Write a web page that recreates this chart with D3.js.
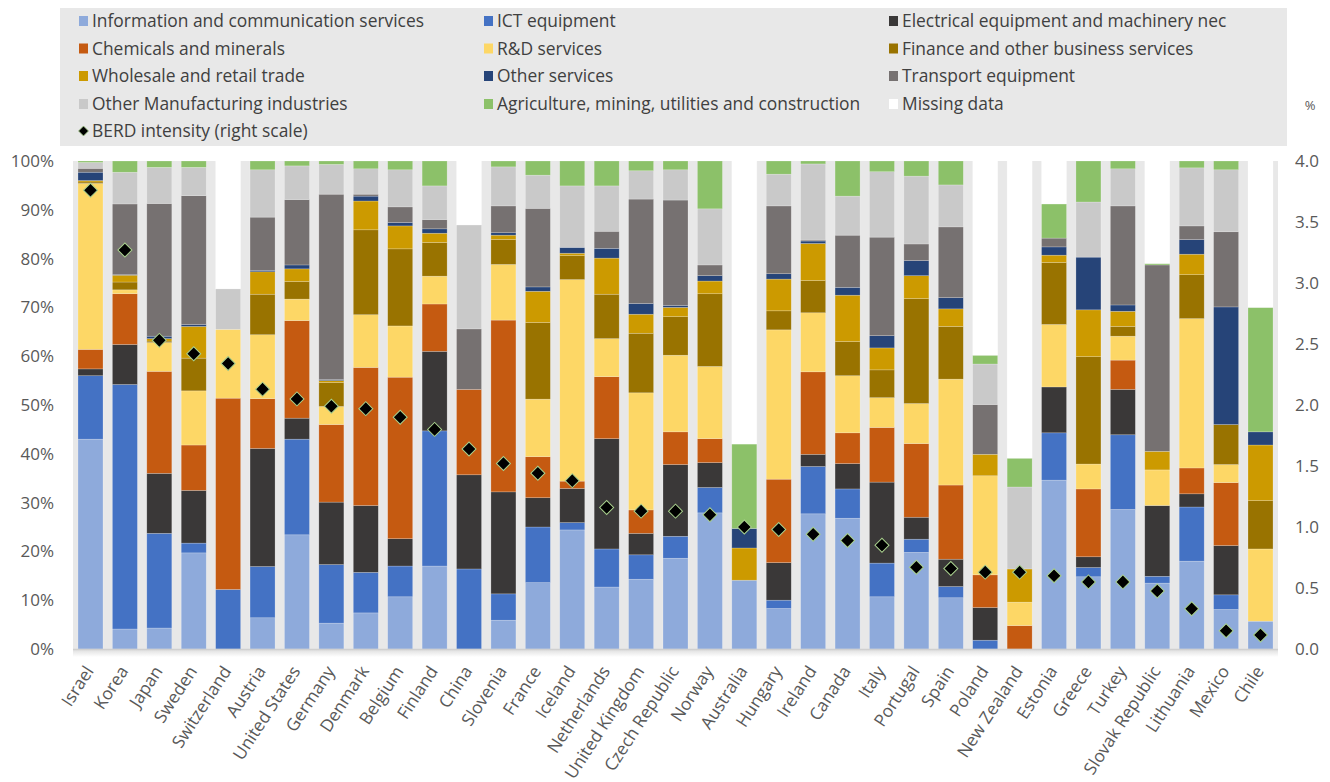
<!DOCTYPE html>
<html>
<head>
<meta charset="utf-8">
<script src="https://cdn.jsdelivr.net/npm/d3@7"></script>
<style>
  html, body { margin: 0; padding: 0; background: #ffffff; }
  svg { display: block; font-family: "Open Sans", "Noto Sans", sans-serif; }
</style>
</head>
<body>
<svg id="chart" width="1330" height="782"></svg>
<script>
// ---------------- DATA ----------------
const countries = ["Israel","Korea","Japan","Sweden","Switzerland","Austria","United States","Germany","Denmark","Belgium","Finland","China","Slovenia","France","Iceland","Netherlands","United Kingdom","Czech Republic","Norway","Australia","Hungary","Ireland","Canada","Italy","Portugal","Spain","Poland","New Zealand","Estonia","Greece","Turkey","Slovak Republic","Lithuania","Mexico","Chile"];

const seriesNames = ["Information and communication services","ICT equipment","Electrical equipment and machinery nec","Chemicals and minerals","R&D services","Finance and other business services","Wholesale and retail trade","Other services","Transport equipment","Other Manufacturing industries","Agriculture, mining, utilities and construction","Missing data"];
const seriesColors = ["#8eaadb","#4472c4","#3a3838","#c55a11","#fdd766","#997300","#cc9a00","#264478","#767171","#c9c9c9","#8cc169","#ffffff"];

// shares in % (bottom to top of each bar)
const infoComm   = [43.0,4.1,4.3,19.7,0,6.4,23.4,5.3,7.4,10.7,17.0,0,5.9,13.6,24.4,12.7,14.3,18.6,27.9,14.1,8.3,27.7,26.8,10.7,19.8,10.5,0,0,34.6,14.8,28.6,13.5,18.0,8.1,5.7];
const ictEquip   = [13.0,50.1,19.4,2.0,12.2,10.5,19.6,12.0,8.3,6.3,27.7,16.4,5.4,11.4,1.5,7.8,5.0,4.5,5.2,0,1.7,9.7,6.0,6.9,2.7,2.3,1.8,0,9.7,1.9,15.3,1.4,11.1,3.0,0];
const electrical = [1.4,8.2,12.3,10.8,0,24.2,4.3,12.8,13.7,5.6,16.3,19.3,20.9,6.0,7.0,22.6,4.4,14.7,5.1,0,7.7,2.5,5.2,16.6,4.5,5.6,6.7,0,9.4,2.2,9.3,14.5,2.7,10.1,0];
const chemicals  = [4.0,10.4,20.9,9.3,39.2,10.2,20.0,15.9,28.3,33.1,9.7,17.5,35.2,8.4,1.5,12.7,4.8,6.7,4.9,0,17.1,16.9,6.3,11.2,15.1,15.2,6.7,4.8,0,13.9,6.0,0,5.3,12.9,0];
const rdServices = [34.0,0.8,5.9,11.1,14.1,13.1,4.4,3.7,10.8,10.5,5.7,0,11.4,11.8,41.3,7.8,24.0,15.7,14.8,0,30.6,12.1,11.7,6.1,8.2,21.7,20.3,4.8,12.8,5.1,4.9,7.3,30.6,3.7,14.8];
const finance    = [0.3,1.6,0.3,6.7,0,8.3,3.6,4.9,17.4,15.8,6.9,0,5.1,15.7,4.9,9.1,12.2,7.9,14.9,0,3.9,6.6,7.0,5.7,21.5,10.8,0,0,12.7,22.0,2.0,0,9.0,8.2,9.9];
const wholesale  = [0.3,1.4,0.5,6.5,0,4.6,2.6,0.4,5.9,4.7,1.9,0,0.9,6.4,0.5,7.4,3.9,1.9,2.6,6.6,6.5,7.6,9.5,4.5,4.7,3.6,4.4,6.8,1.5,9.6,3.1,3.8,4.2,0,11.4];
const otherServ  = [1.7,0.1,0.5,0.4,0,0.3,0.8,0.2,1.0,0.7,0.9,0,0.5,0.9,1.2,2.0,2.2,0.4,1.1,4.0,1.1,0.5,1.6,2.5,3.1,2.3,0,0,1.7,10.8,1.3,0,3.0,24.1,2.7];
const transport  = [0.8,14.5,27.2,26.4,0,10.9,13.4,38.0,0.4,3.2,1.9,12.4,5.5,16.1,0,3.5,21.4,21.6,2.2,0,13.9,0.2,10.7,20.2,3.4,14.5,10.2,0,1.8,0,20.3,38.2,2.8,15.4,0];
const otherManuf = [1.2,6.5,7.4,5.8,8.3,9.7,6.9,6.1,5.2,7.6,6.9,21.3,8.0,6.8,12.6,9.3,5.8,6.2,11.5,0,6.5,15.6,8.0,13.4,13.9,8.6,8.3,16.8,0,11.3,7.6,0,11.9,12.7,0];
const agriculture= [0.3,2.3,1.3,1.3,0,1.8,1.0,0.7,1.6,1.8,5.1,0,1.2,2.9,5.1,5.1,2.0,1.8,9.8,17.3,2.7,0.6,7.2,2.2,3.1,4.9,1.8,5.9,7.0,8.4,1.6,0.3,1.4,1.8,25.5];
const missing    = [0,0,0,0,26.2,0,0,0,0,0,0,13.1,0,0,0,0,0,0,0,58.0,0,0,0,0,0,0,39.8,60.9,8.8,0,0,21.0,0,0,30.0];

// BERD intensity (right scale, %)
const berd = [3.76,3.27,2.53,2.42,2.34,2.13,2.05,1.99,1.97,1.90,1.80,1.64,1.52,1.44,1.38,1.16,1.13,1.13,1.10,1.00,0.98,0.94,0.89,0.85,0.67,0.66,0.63,0.63,0.60,0.55,0.55,0.475,0.33,0.15,0.115];

const leftTicks  = [0,10,20,30,40,50,60,70,80,90,100];
const rightTicks = [0,0.5,1,1.5,2,2.5,3,3.5,4];
const berdLabel  = "BERD intensity (right scale)";

// ---------------- BUILD ----------------
const seriesArrays = [infoComm,ictEquip,electrical,chemicals,rdServices,finance,wholesale,otherServ,transport,otherManuf,agriculture,missing];
const keys = seriesNames;
const rows = countries.map((c,i) => {
  const r = {country: c, berd: berd[i]};
  keys.forEach((k,j) => r[k] = seriesArrays[j][i]);
  return r;
});
const stack = d3.stack().keys(keys)(rows);

const svg = d3.select("#chart");
const plot = {left: 73, right: 1278, top: 161, bottom: 649};

const x = d3.scaleBand().domain(countries).range([plot.left, plot.right]).paddingInner(0.2735).paddingOuter(0.145);
const y = d3.scaleLinear().domain([0,100]).range([plot.bottom, plot.top]);
const y2 = d3.scaleLinear().domain([0,4]).range([plot.bottom, plot.top]);
const color = d3.scaleOrdinal().domain(keys).range(seriesColors);

// legend background
svg.append("rect").attr("x",60).attr("y",8).attr("width",1227).attr("height",138).attr("fill","#e8e8e8");

// plot background
svg.append("rect").attr("x",plot.left).attr("y",plot.top).attr("width",plot.right-plot.left).attr("height",plot.bottom-plot.top).attr("fill","#e8e8e8");

// bars
svg.append("g").selectAll("g").data(stack).join("g")
  .attr("fill", d => color(d.key))
  .selectAll("rect").data(d => d).join("rect")
  .attr("x", d => x(d.data.country))
  .attr("width", x.bandwidth())
  .attr("y", d => y(d[1]))
  .attr("height", d => Math.max(0, y(d[0]) - y(d[1])))
  .attr("stroke", "#ffffff").attr("stroke-opacity", 0.35).attr("stroke-width", 0.6);

// bottom axis line with soft shadow
const shadow = svg.append("defs").append("linearGradient").attr("id","shade").attr("x1",0).attr("x2",0).attr("y1",0).attr("y2",1);
shadow.append("stop").attr("offset","0%").attr("stop-color","#dcdcdc");
shadow.append("stop").attr("offset","100%").attr("stop-color","#ffffff");
svg.append("rect").attr("x",plot.left).attr("y",plot.bottom).attr("width",plot.right-plot.left).attr("height",8).attr("fill","url(#shade)");
svg.append("line").attr("x1",plot.left).attr("x2",plot.right).attr("y1",plot.bottom+0.5).attr("y2",plot.bottom+0.5)
  .attr("stroke","#d0d0d0").attr("stroke-width",1.5);

// left axis
const lAxis = svg.append("g").attr("transform",`translate(${plot.left},0)`)
  .call(d3.axisLeft(y).tickValues(leftTicks).tickFormat(d => d + "%").tickSize(0).tickPadding(19));
lAxis.select(".domain").remove();
lAxis.selectAll("text").attr("fill","#595959").style("font-size","17px").style("font-family","'Open Sans', sans-serif");

// right axis
const rAxis = svg.append("g").attr("transform",`translate(${plot.right},0)`)
  .call(d3.axisRight(y2).tickValues(rightTicks).tickFormat(d3.format(".1f")).tickSize(0).tickPadding(17));
rAxis.select(".domain").remove();
rAxis.selectAll("text").attr("fill","#595959").style("font-size","17px").style("font-family","'Open Sans', sans-serif");

// x labels
svg.append("g").selectAll("text").data(countries).join("text")
  .attr("transform", d => `translate(${x(d) + x.bandwidth()/2 + 4},${plot.bottom + 22}) rotate(-57)`)
  .attr("text-anchor","end")
  .attr("fill","#595959")
  .style("font-size","17.3px")
  .text(d => d);

// BERD markers
const diamond = d3.symbol().type(d3.symbolSquare).size(98);
svg.append("g").selectAll("path").data(rows).join("path")
  .attr("d", diamond)
  .attr("transform", d => `translate(${x(d.country) + x.bandwidth()/2},${y2(d.berd)}) rotate(45)`)
  .attr("fill","#000000").attr("stroke","#a9d18e").attr("stroke-width",1);

// legend
const legendCols = [79, 484, 889];
const legendRows = [21, 48.5, 76, 104];
const lg = svg.append("g");
keys.forEach((k,i) => {
  const cx = legendCols[i % 3], cy = legendRows[Math.floor(i / 3)];
  lg.append("rect").attr("x",cx).attr("y",cy-5).attr("width",9).attr("height",10).attr("fill",color(k));
  lg.append("text").attr("x",cx+13).attr("y",cy).attr("dy","0.35em")
    .attr("fill","#404040").style("font-size","17.4px").text(k);
});
lg.append("path").attr("d", d3.symbol().type(d3.symbolSquare).size(50))
  .attr("transform",`translate(${legendCols[0]+4.5},131) rotate(45)`)
  .attr("fill","#000").attr("stroke","#a9d18e").attr("stroke-width",0.8);
lg.append("text").attr("x",legendCols[0]+13).attr("y",131).attr("dy","0.35em")
  .attr("fill","#404040").style("font-size","17.4px").text(berdLabel);

// unit label for right axis
svg.append("text").attr("x",1310).attr("y",105).attr("dy","0.35em").attr("text-anchor","middle")
  .attr("fill","#595959").style("font-size","13px").text("%");
</script>
</body>
</html>
